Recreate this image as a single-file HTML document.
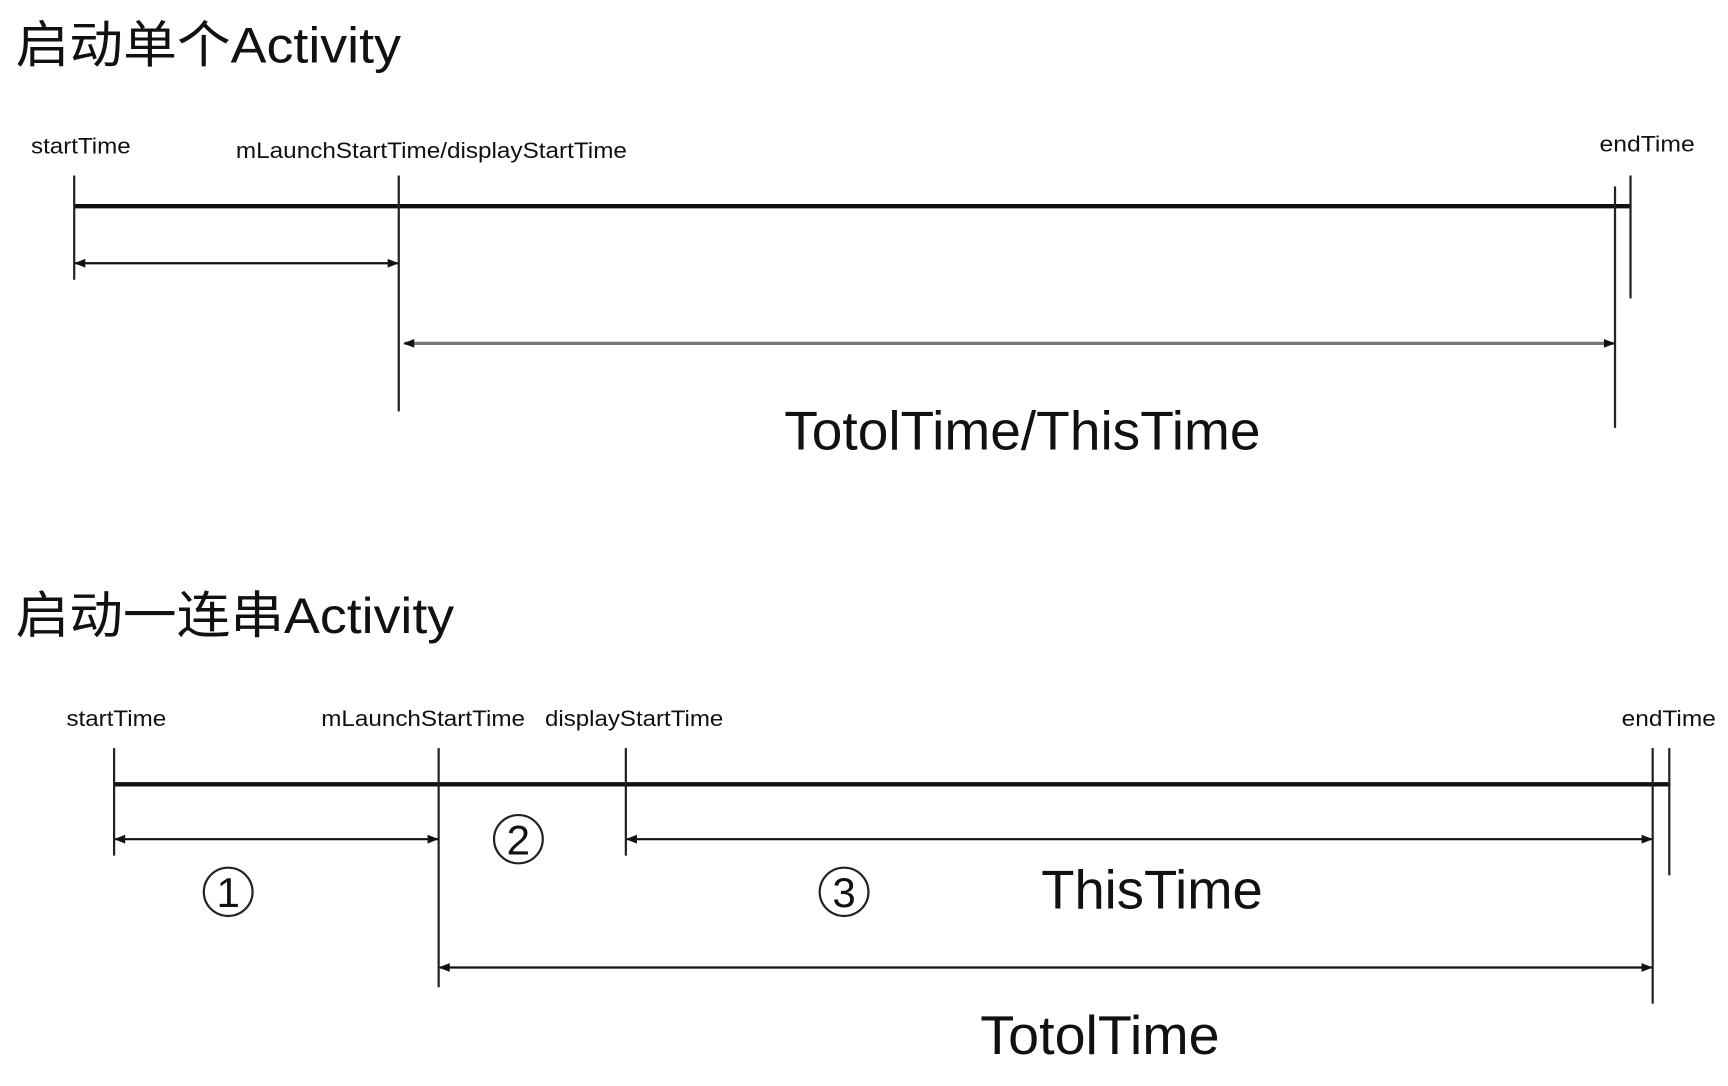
<!DOCTYPE html>
<html><head><meta charset="utf-8"><style>
html,body{margin:0;padding:0;background:#fff;}
svg{display:block;}
text{font-family:"Liberation Sans","Noto Sans CJK SC",sans-serif;fill:#111;}
</style></head><body>
<svg width="1728" height="1086" viewBox="0 0 1560 990" preserveAspectRatio="none">
<defs>
<marker id="ah" viewBox="0 0 10 10" refX="9" refY="5" markerWidth="12" markerHeight="10" orient="auto-start-reverse" markerUnits="userSpaceOnUse"><path d="M0,1 L10,5 L0,9 z" fill="#111"/></marker>
</defs>
<g>
<text x="14" y="57" font-size="46" textLength="348" lengthAdjust="spacingAndGlyphs">启动单个Activity</text>
<text x="28" y="140" font-size="20" textLength="90" lengthAdjust="spacingAndGlyphs">startTime</text>
<text x="213" y="144" font-size="20" textLength="353" lengthAdjust="spacingAndGlyphs">mLaunchStartTime/displayStartTime</text>
<text x="1444" y="138" font-size="20" textLength="86" lengthAdjust="spacingAndGlyphs">endTime</text>
<line x1="67" y1="188" x2="1472" y2="188" stroke="#111" stroke-width="4"/>
<line x1="67" y1="160" x2="67" y2="255" stroke="#222" stroke-width="2"/>
<line x1="360" y1="160" x2="360" y2="375" stroke="#222" stroke-width="2"/>
<line x1="1458" y1="170" x2="1458" y2="390" stroke="#222" stroke-width="2"/>
<line x1="1472" y1="160" x2="1472" y2="272" stroke="#222" stroke-width="2"/>
<line x1="68" y1="240" x2="359" y2="240" stroke="#111" stroke-width="2" marker-start="url(#ah)" marker-end="url(#ah)"/>
<line x1="365" y1="313" x2="1457" y2="313" stroke="#777" stroke-width="3" marker-start="url(#ah)" marker-end="url(#ah)"/>
<text x="708" y="410" font-size="50" textLength="430" lengthAdjust="spacingAndGlyphs">TotolTime/ThisTime</text>
</g>
<g>
<text x="14" y="577" font-size="46" textLength="396" lengthAdjust="spacingAndGlyphs">启动一连串Activity</text>
<text x="60" y="662" font-size="20" textLength="90" lengthAdjust="spacingAndGlyphs">startTime</text>
<text x="290" y="662" font-size="20" textLength="184" lengthAdjust="spacingAndGlyphs">mLaunchStartTime</text>
<text x="492" y="662" font-size="20" textLength="161" lengthAdjust="spacingAndGlyphs">displayStartTime</text>
<text x="1464" y="662" font-size="20" textLength="85" lengthAdjust="spacingAndGlyphs">endTime</text>
<line x1="103" y1="715" x2="1508" y2="715" stroke="#111" stroke-width="4"/>
<line x1="103" y1="682" x2="103" y2="780" stroke="#222" stroke-width="2"/>
<line x1="396" y1="682" x2="396" y2="900" stroke="#222" stroke-width="2"/>
<line x1="565" y1="682" x2="565" y2="780" stroke="#222" stroke-width="2"/>
<line x1="1492" y1="682" x2="1492" y2="915" stroke="#222" stroke-width="2"/>
<line x1="1507" y1="682" x2="1507" y2="798" stroke="#222" stroke-width="2"/>
<line x1="104" y1="765" x2="395" y2="765" stroke="#111" stroke-width="2" marker-start="url(#ah)" marker-end="url(#ah)"/>
<line x1="566" y1="765" x2="1491" y2="765" stroke="#111" stroke-width="2" marker-start="url(#ah)" marker-end="url(#ah)"/>
<line x1="397" y1="882" x2="1491" y2="882" stroke="#111" stroke-width="2" marker-start="url(#ah)" marker-end="url(#ah)"/>
<g><circle cx="468" cy="765" r="22" fill="none" stroke="#222" stroke-width="2"/><text x="468" y="779" font-size="38" text-anchor="middle" font-family="Liberation Serif,serif">2</text></g>
<g><circle cx="206" cy="813" r="22" fill="none" stroke="#222" stroke-width="2"/><text x="206" y="827" font-size="38" text-anchor="middle" font-family="Liberation Serif,serif">1</text></g>
<g><circle cx="762" cy="813" r="22" fill="none" stroke="#222" stroke-width="2"/><text x="762" y="827" font-size="38" text-anchor="middle" font-family="Liberation Serif,serif">3</text></g>
<text x="940" y="828" font-size="50" textLength="200" lengthAdjust="spacingAndGlyphs">ThisTime</text>
<text x="885" y="961" font-size="50" textLength="216" lengthAdjust="spacingAndGlyphs">TotolTime</text>
</g>
</svg>
</body></html>
